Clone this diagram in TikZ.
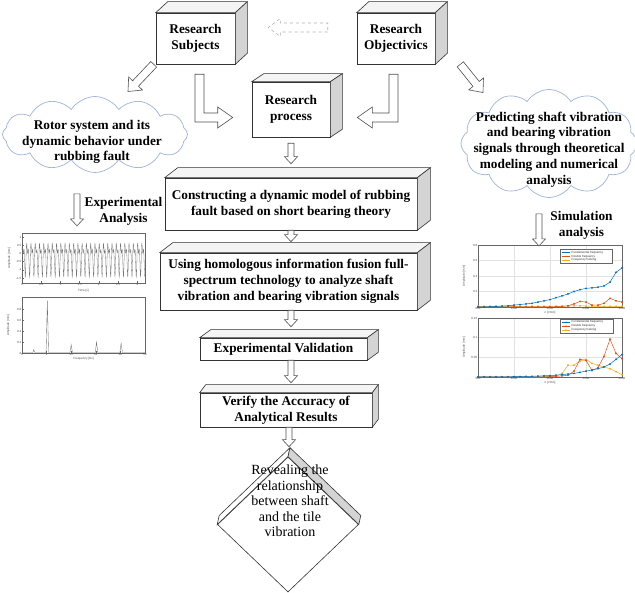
\documentclass[tikz,border=0pt]{standalone}
\usepackage{fontspec}
\setmainfont{Liberation Serif}
\newfontfamily\plotfont{Liberation Sans}
\usetikzlibrary{calc,shapes.symbols,shapes.geometric}

\definecolor{sidegray}{HTML}{D4D4D4}
\definecolor{topgray}{HTML}{F4F4F4}
\definecolor{cloudblue}{HTML}{9FB4DA}
\definecolor{arrowgray}{HTML}{505050}
\definecolor{mblue}{HTML}{0072BD}
\definecolor{mred}{HTML}{D95319}
\definecolor{myellow}{HTML}{EDB120}
\definecolor{gridgray}{HTML}{E2E2E2}

\tikzset{
 boxface/.style={draw=black!80, line width=0.6pt, fill=white, font=\fontsize{13.3}{16}\selectfont\bfseries, align=center, inner sep=0pt},
 cubeline/.style={draw=black!80, line width=0.6pt},
 arrowline/.style={draw=arrowgray, line width=0.6pt, fill=white},
 cloudnode/.style={cloud, cloud puffs=12, cloud puff arc=115, cloud ignores aspect, draw=cloudblue, line width=0.7pt, fill=white, inner sep=0pt},
 cloudtext/.style={align=center, inner sep=0pt, font=\fontsize{13.3}{15.8}\selectfont\bfseries},
 lbltext/.style={align=center, inner sep=0pt, font=\fontsize{13.3}{16}\selectfont\bfseries},
 revtext/.style={align=center, inner sep=0pt, font=\fontsize{14}{15.5}\selectfont},
 plotaxis/.style={draw=black!60, line width=0.3pt},
 ticklab/.style={font=\plotfont\fontsize{3}{3.5}\selectfont, text=black!70, inner sep=0.6pt},
 legtext/.style={font=\plotfont\fontsize{3}{3.5}\selectfont, text=black!80, inner sep=0.5pt, anchor=west},
 series/.style={line width=0.5pt, mark=*, mark size=0.65pt},
}

\newcommand\cubefaces[3]{%
 \filldraw[cubeline, fill=topgray] (#1.north west) -- ++(#2,#3) -- ($(#1.north east)+(#2,#3)$) -- (#1.north east) -- cycle;
 \filldraw[cubeline, fill=sidegray] (#1.north east) -- ++(#2,#3) -- ($(#1.south east)+(#2,#3)$) -- (#1.south east) -- cycle;}

\newcommand\blockarrow[6][]{%
 \draw[arrowline,#1] let \p1=(#2), \p2=(#3), \n1={atan2(\y2-\y1,\x2-\x1)} in
 ($(\p1)+({\n1+90}:#4)$) -- ($(\p2)+({\n1+180}:#6)+({\n1+90}:#4)$) -- ($(\p2)+({\n1+180}:#6)+({\n1+90}:#5)$) -- (\p2) -- ($(\p2)+({\n1+180}:#6)+({\n1-90}:#5)$) -- ($(\p2)+({\n1+180}:#6)+({\n1-90}:#4)$) -- ($(\p1)+({\n1-90}:#4)$) -- cycle;}

\begin{document}
\begin{tikzpicture}[x=1pt,y=-1pt]
\useasboundingbox (0,0) rectangle (635,593);
\fill[white] (0,0) rectangle (635,593);

% ---------- top boxes ----------
\node[boxface, minimum width=79pt, minimum height=51pt] (subj) at (195.5,38.5) {Research\\Subjects};
\cubefaces{subj}{12}{-11}
\node[boxface, minimum width=78pt, minimum height=51pt] (obj) at (396,38.5) {Research\\Objectivics};
\cubefaces{obj}{12}{-11}
\node[boxface, minimum width=78pt, minimum height=55pt] (proc) at (291,109.5) {Research\\process};
\cubefaces{proc}{12}{-8}

% ---------- main chain ----------
\node[boxface, minimum width=252pt, minimum height=52pt] (cons) at (291,204) {Constructing a dynamic model of rubbing\\fault based on short bearing theory};
\cubefaces{cons}{13}{-10}
\node[boxface, minimum width=257pt, minimum height=57pt] (using) at (288.5,281.5) {Using homologous information fusion full-\\spectrum technology to analyze shaft\\vibration and bearing vibration signals};
\cubefaces{using}{13}{-10}
\node[boxface, minimum width=167pt, minimum height=22pt] (expval) at (283.5,349) {Experimental Validation};
\cubefaces{expval}{11}{-8}
\node[boxface, minimum width=172pt, minimum height=34pt] (verify) at (286,410) {Verify the Accuracy of\\Analytical Results};
\cubefaces{verify}{6}{-8}

% diamond
\node[diamond, draw=black!80, line width=0.6pt, fill=white, minimum width=141pt, minimum height=135pt, inner sep=0pt] (reveal) at (288,524.5) {};
\filldraw[cubeline, fill=white] (reveal.west) -- ($(reveal.west)+(2,-9)$) -- ($(reveal.north)+(2,-9)$) -- (reveal.north) -- cycle;
\filldraw[cubeline, fill=sidegray] (reveal.north) -- ($(reveal.north)+(2,-9)$) -- ($(reveal.east)+(2,-9)$) -- (reveal.east) -- cycle;
\node[revtext] (revealtxt) at (290,501) {Revealing the\\relationship\\between shaft\\and the tile\\vibration};

% ---------- clouds ----------
\node[cloudnode, minimum width=185pt, minimum height=76pt] (lcloud) at (95,134.5) {};
\node[cloudtext] (lcloudtxt) at (92,142) {Rotor system and its\\dynamic behavior under\\rubbing fault};
\node[cloudnode, minimum width=176pt, minimum height=108pt] (rcloud) at (549,143.5) {};
\node[cloudtext] (rcloudtxt) at (549,149.5) {Predicting shaft vibration\\and bearing vibration\\signals through theoretical\\modeling and numerical\\analysis};

\node[lbltext] (expana) at (123.5,211) {Experimental\\Analysis};
\node[lbltext] (simana) at (581.5,225.5) {Simulation\\analysis};

% ---------- arrows ----------
\blockarrow[dashed, draw=black!30]{$(obj.west)+(-29,-11)$}{$(subj.east)+(33,-11)$}{4.5pt}{9pt}{12pt}
\draw[arrowline] let \p1=(subj.south), \p2=(proc.west) in
 (\x1-0.5pt,\y1-10pt) -- (\x1-0.5pt,\y2-12.5pt) -- (\x2-34pt,\y2-12.5pt) -- (\x2-34pt,\y2-18.5pt) -- (\x2-19pt,\y2-8pt) -- (\x2-34pt,\y2+2.5pt) -- (\x2-34pt,\y2-3.5pt) -- (\x1+8.5pt,\y2-3.5pt) -- (\x1+8.5pt,\y1-10pt) -- cycle;
\draw[arrowline] let \p1=(obj.south), \p2=(proc.east) in
 (\x1+2pt,\y1-10pt) -- (\x1+2pt,\y2-12.5pt) -- (\x2+42pt,\y2-12.5pt) -- (\x2+42pt,\y2-18.5pt) -- (\x2+27pt,\y2-8pt) -- (\x2+42pt,\y2+2.5pt) -- (\x2+42pt,\y2-3.5pt) -- (\x1-7pt,\y2-3.5pt) -- (\x1-7pt,\y1-10pt) -- cycle;
\blockarrow{$(subj.south west)+(-2,0)$}{$(lcloud.center)+(33,-43)$}{4pt}{9.5pt}{11pt}
\blockarrow{$(obj.south east)+(25,0)$}{$(rcloud.center)+(-66,-51)$}{4pt}{9.5pt}{11pt}
\blockarrow{$(lcloud.south)+(-18,21)$}{$(lcloud.south)+(-18,53)$}{3pt}{6.5pt}{7pt}
\blockarrow{$(rcloud.south)+(-10,16)$}{$(rcloud.south)+(-10,48)$}{3pt}{6.5pt}{7pt}

\blockarrow{$(proc.south)+(0,6)$}{$(proc.south |- cons.north)+(0,-14)$}{3pt}{6.5pt}{7pt}
\blockarrow{proc.south |- cons.south}{$(proc.south |- using.north)+(0,-11)$}{3pt}{6.5pt}{7pt}
\blockarrow{proc.south |- using.south}{$(proc.south |- expval.north)+(0,-11)$}{3pt}{6.5pt}{7pt}
\blockarrow{proc.south |- expval.south}{$(proc.south |- verify.north)+(0,-10)$}{3pt}{6.5pt}{7pt}
\blockarrow{$(verify.south)+(3,0)$}{$(reveal.north)+(1,-10)$}{3pt}{6.5pt}{7pt}

% ---------- left plots ----------
\begin{scope}[shift={(22pt,-253.4pt)}, x=38.4pt, y=16.4pt]
 \draw[black!55, line width=0.3pt] plot[domain=0:28.8, samples=700] ({\x/9}, {-0.2+0.75*sin(360*frac(\x))+0.5*sin(360*frac(2*\x)+60)});
 \draw[plotaxis] (0,-1.8) rectangle (3.2,1.24);
 \foreach \v [count=\k] in {1,0.5,0,-0.5,-1,-1.5} {
  \draw[plotaxis] (0,\v) -- (0.05,\v);
  \node[ticklab, anchor=east] (luy\k) at (0,\v) {\v};}
 \foreach \v [count=\k] in {0,0.5,1,1.5,2,2.5,3} {
  \draw[plotaxis] (\v,-1.8) -- (\v,-1.7);
  \node[ticklab, anchor=north] (lux\k) at (\v,-1.8) {\v};}
 \node[ticklab] (luxl) at (1.6,-2.3) {Time [s]};
 \node[ticklab, rotate=90] (luyl) at (-0.33,-0.3) {Amplitude [mm]};
\end{scope}

\begin{scope}[shift={(22pt,-353pt)}, x=24.6pt, y=55pt]
 \draw[black!55, line width=0.35pt] (0,0.01) -- (0.44,0.01) -- (0.48,0.06) -- (0.52,0.01) -- (0.98,0.01) -- (1.03,0.95) -- (1.08,0.01) -- (1.95,0.01) -- (2,0.15) -- (2.05,0.01) -- (2.98,0.01) -- (3.03,0.2) -- (3.08,0.01) -- (3.98,0.01) -- (4.03,0.18) -- (4.08,0.01) -- (5,0.01);
 \draw[plotaxis] (0,0) rectangle (5,1.02);
 \foreach \v [count=\k] in {0,0.2,0.4,0.6,0.8} {
  \draw[plotaxis] (0,\v) -- (0.08,\v);
  \node[ticklab, anchor=east] (ldy\k) at (0,\v) {\v};}
 \foreach \v/\t [count=\k] in {0/0,1/x,2/2x,3/3x,4/4x,5/5X} {
  \draw[plotaxis] (\v,0) -- (\v,0.03);
  \node[ticklab, anchor=north] (ldx\k) at (\v,0) {\t};}
 \node[ticklab] (ldxl) at (2.5,-0.1) {Frequency [Hz]};
 \node[ticklab, rotate=90] (ldyl) at (-0.55,0.5) {Amplitude [mm]};
\end{scope}

% ---------- right plots ----------
\begin{scope}[shift={(478pt,-307pt)}, x=6pt, y=62pt]
 \draw[gridgray, line width=0.3pt] (6,0) -- (6,1) (12,0) -- (12,1) (18,0) -- (18,1) (0,0.25) -- (24,0.25) (0,0.5) -- (24,0.5) (0,0.75) -- (24,0.75);
 \draw[plotaxis] (0,0) rectangle (24,1);
 \draw[series, myellow] plot coordinates {(0,0.012) (1,0.012) (2,0.012) (3,0.012) (4,0.012) (5,0.012) (6,0.012) (7,0.012) (8,0.012) (9,0.012) (10,0.012) (11,0.012) (12,0.012) (13,0.012) (14,0.012) (15,0.015) (16,0.02) (17,0.02) (18,0.015) (19,0.012) (20,0.012) (21,0.012) (22,0.012) (23,0.012) (24,0.012)};
 \draw[series, mred] plot coordinates {(0,0) (1,0) (2,0) (3,0) (4,0) (5,0) (6,0) (7,0) (8,0) (9,0) (10,0) (11,0) (12,0) (13,0.005) (14,0.01) (15,0.02) (16,0.05) (17,0.09) (18,0.08) (19,0.03) (20,0.03) (21,0.06) (22,0.14) (23,0.1) (24,0.08)};
 \draw[series, mblue] plot coordinates {(0,0) (1,0) (2,0.005) (3,0.01) (4,0.015) (5,0.02) (6,0.03) (7,0.04) (8,0.05) (9,0.06) (10,0.08) (11,0.1) (12,0.12) (13,0.15) (14,0.18) (15,0.21) (16,0.25) (17,0.28) (18,0.3) (19,0.31) (20,0.32) (21,0.34) (22,0.4) (23,0.56) (24,0.63)};
 \foreach \v/\t [count=\k] in {0.25/0.2,0.5/0.4,0.75/0.6,1/0.8} {
  \node[ticklab, anchor=east] (ruy\k) at (0,\v) {\t};}
 \foreach \v/\t [count=\k] in {0/600,6/1200,12/1800,18/2400,24/3000} {
  \node[ticklab, anchor=north] (rux\k) at (\v,0) {\t};}
 \node[ticklab] (ruxl) at (12,-0.1) {n [r/min]};
 \node[ticklab, rotate=90] (ruyl) at (-2.3,0.5) {Amplitude [mm]};
\end{scope}
\draw[plotaxis, fill=white] (560,249.5) rectangle (612,263);
\draw[mblue, line width=0.5pt] (562,252.5) -- (570,252.5); \fill[mblue] (566,252.5) circle (0.7pt);
\draw[mred, line width=0.5pt] (562,256.3) -- (570,256.3); \fill[mred] (566,256.3) circle (0.7pt);
\draw[myellow, line width=0.5pt] (562,260.1) -- (570,260.1); \fill[myellow] (566,260.1) circle (0.7pt);
\node[legtext] (lgua) at (571,252.5) {Fundamental frequency};
\node[legtext] (lgub) at (571,256.3) {Double frequency};
\node[legtext] (lguc) at (571,260.1) {Frequency halving};

\begin{scope}[shift={(478pt,-377pt)}, x=6pt, y=59pt]
 \draw[gridgray, line width=0.3pt] (6,0) -- (6,1) (12,0) -- (12,1) (18,0) -- (18,1) (0,0.333) -- (24,0.333) (0,0.667) -- (24,0.667);
 \draw[plotaxis] (0,0) rectangle (24,1);
 \draw[series, myellow] plot coordinates {(0,0) (1,0) (2,0) (3,0) (4,0) (5,0) (6,0) (7,0) (8,0) (9,0) (10,0.003) (11,0.005) (12,0.008) (13,0.02) (14,0.06) (15,0.2) (16,0.2) (17,0.27) (18,0.3) (19,0.23) (20,0.2) (21,0.17) (22,0.14) (23,0.09) (24,0.04)};
 \draw[series, mred] plot coordinates {(0,0) (1,0) (2,0) (3,0) (4,0) (5,0) (6,0) (7,0) (8,0) (9,0) (10,0) (11,0.003) (12,0.006) (13,0.01) (14,0.02) (15,0.03) (16,0.1) (17,0.3) (18,0.28) (19,0.11) (20,0.16) (21,0.35) (22,0.64) (23,0.4) (24,0.31)};
 \draw[series, mblue] plot coordinates {(0,0) (1,0) (2,0) (3,0) (4,0) (5,0.003) (6,0.005) (7,0.008) (8,0.01) (9,0.012) (10,0.015) (11,0.02) (12,0.025) (13,0.03) (14,0.04) (15,0.05) (16,0.06) (17,0.08) (18,0.1) (19,0.12) (20,0.14) (21,0.17) (22,0.22) (23,0.3) (24,0.38)};
 \foreach \v/\t [count=\k] in {0.333/0.05,0.667/0.1,1/0.15} {
  \node[ticklab, anchor=east] (rdy\k) at (0,\v) {\t};}
 \foreach \v/\t [count=\k] in {0/600,6/1200,12/1800,18/2400,24/3000} {
  \node[ticklab, anchor=north] (rdx\k) at (\v,0) {\t};}
 \node[ticklab] (rdxl) at (12,-0.1) {n [r/min]};
 \node[ticklab, rotate=90] (rdyl) at (-2.3,0.5) {Amplitude [mm]};
\end{scope}
\draw[plotaxis, fill=white] (560,319) rectangle (613,333);
\draw[mblue, line width=0.5pt] (562,322.2) -- (570,322.2); \fill[mblue] (566,322.2) circle (0.7pt);
\draw[mred, line width=0.5pt] (562,326) -- (570,326); \fill[mred] (566,326) circle (0.7pt);
\draw[myellow, line width=0.5pt] (562,329.8) -- (570,329.8); \fill[myellow] (566,329.8) circle (0.7pt);
\node[legtext] (lgda) at (571,322.2) {Fundamental frequency};
\node[legtext] (lgdb) at (571,326) {Double frequency};
\node[legtext] (lgdc) at (571,329.8) {Frequency halving};
\end{tikzpicture}
\end{document}
